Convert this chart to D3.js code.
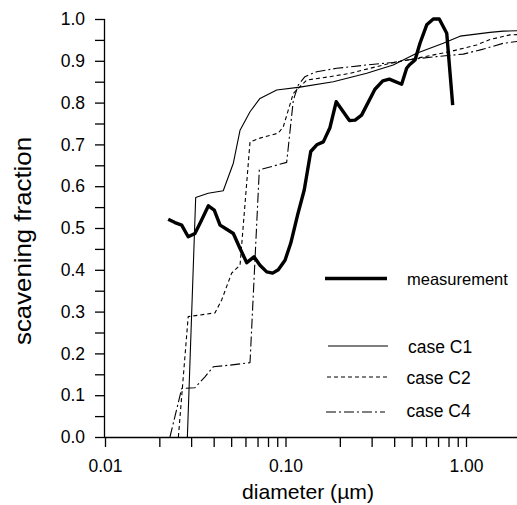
<!DOCTYPE html>
<html><head><meta charset="utf-8">
<script src="https://cdn.jsdelivr.net/npm/d3@7"></script>
<style>
html,body{margin:0;padding:0;background:#fff;}
svg{display:block;font-family:"Liberation Sans",Arial,sans-serif;}
</style></head>
<body><svg id="chart" width="517" height="505"></svg>
<script>
// ---- data ----
const measX = [0.0224,0.0244,0.0266,0.0289,0.0315,0.0343,0.0374,0.0403,0.0434,0.0472,0.0514,0.0560,0.0610,0.0669,0.0722,0.0787,0.0849,0.0912,0.0994,0.107,0.117,0.127,0.138,0.149,0.162,0.176,0.191,0.226,0.243,0.264,0.313,0.346,0.376,0.440,0.469,0.485,0.522,0.556,0.606,0.659,0.711,0.782,0.844];
const measY = [0.521,0.513,0.507,0.479,0.487,0.519,0.553,0.543,0.507,0.497,0.487,0.451,0.417,0.431,0.411,0.395,0.392,0.400,0.423,0.464,0.533,0.591,0.683,0.699,0.706,0.739,0.802,0.757,0.758,0.770,0.832,0.852,0.856,0.844,0.882,0.890,0.902,0.942,0.986,1.0,1.0,0.966,0.794];

const c1X = [0.0286,0.0318,0.0373,0.0452,0.0514,0.0560,0.0636,0.0722,0.0894,0.1203,0.184,0.282,0.395,0.533,0.748,0.927,1.052,1.358,1.61,2.0];
const c1Y = [0.0,0.573,0.583,0.589,0.655,0.734,0.778,0.810,0.830,0.837,0.850,0.870,0.890,0.918,0.942,0.959,0.962,0.968,0.971,0.972];

const c2X = [0.0255,0.0289,0.0407,0.0443,0.0503,0.0560,0.0636,0.0722,0.0912,0.0972,0.1036,0.1105,0.1177,0.1311,0.1764,0.2277,0.3793,0.533,0.815,1.146,1.358,1.753,2.0];
const c2Y = [0.0,0.288,0.297,0.328,0.392,0.411,0.706,0.715,0.727,0.742,0.782,0.822,0.834,0.854,0.862,0.870,0.894,0.906,0.922,0.938,0.951,0.962,0.963];

const c4X = [0.0229,0.0266,0.0315,0.0358,0.0398,0.0493,0.0636,0.0716,0.1015,0.1105,0.1177,0.1282,0.1489,0.1922,0.282,0.395,0.5105,0.688,0.966,1.247,1.61,2.0];
const c4Y = [0.0,0.116,0.118,0.144,0.168,0.172,0.178,0.639,0.657,0.806,0.842,0.862,0.874,0.882,0.890,0.896,0.904,0.910,0.916,0.928,0.942,0.947];

const xMajorTicks = [0.01, 0.1, 1];
const xTickLabels = ["0.01", "0.10", "1.00"];
const yTicks = [0,0.05,0.1,0.15,0.2,0.25,0.3,0.35,0.4,0.45,0.5,0.55,0.6,0.65,0.7,0.75,0.8,0.85,0.9,0.95,1.0];
const yTickLabels = ["0.0","0.1","0.2","0.3","0.4","0.5","0.6","0.7","0.8","0.9","1.0"];

const seriesNames = ["measurement", "case C1", "case C2", "case C4"];

// ---- layout ----
const svg = d3.select("#chart");
const x0 = 105, y0 = 437, yTop = 19;
const x = d3.scaleLog().domain([0.01, 2]).range([x0, x0 + 180.5 * Math.log10(200)]);
const y = d3.scaleLinear().domain([0, 1]).range([y0, yTop]);

// x ticks: 1..9 per decade
const xAllTicks = [];
[0.01, 0.1, 1].forEach(d => { for (let k = 1; k <= 9; k++) { const v = +(d * k).toPrecision(3); if (v <= 2) xAllTicks.push(v); } });

const xAxis = d3.axisBottom(x).tickValues(xAllTicks).tickSize(10).tickPadding(13)
  .tickFormat(v => { const i = xMajorTicks.findIndex(m => Math.abs(m - v) < 1e-9); return i >= 0 ? xTickLabels[i] : ""; });
const yAxis = d3.axisLeft(y).tickValues(yTicks).tickSize(10).tickPadding(10)
  .tickFormat((v, i) => i % 2 === 0 ? yTickLabels[i / 2] : "");

const gx = svg.append("g").attr("transform", `translate(0,${y0})`).call(xAxis);
const gy = svg.append("g").attr("transform", `translate(${x0},0)`).call(yAxis);
[gx, gy].forEach(g => {
  g.select(".domain").attr("stroke", "#000").attr("stroke-width", 1.3);
  g.selectAll(".tick line").attr("stroke", "#000").attr("stroke-width", 1.3);
  g.selectAll(".tick text").attr("fill", "#000").style("font-size", "17.5px").style("font-family", "'Liberation Sans', Arial, sans-serif");
});
gy.select(".domain").attr("d", `M-0.5,${y0}V${yTop}`);
gx.select(".domain").attr("d", `M${x0},0.5H517`);

// axis titles
svg.append("text").attr("x", 308).attr("y", 498.5).attr("text-anchor", "middle")
  .style("font-size", "21px").attr("textLength", 132).attr("lengthAdjust", "spacingAndGlyphs")
  .text("diameter (µm)");
svg.append("text").attr("transform", "translate(31,241) rotate(-90)").attr("text-anchor", "middle")
  .style("font-size", "24px").attr("textLength", 208).attr("lengthAdjust", "spacingAndGlyphs")
  .text("scavening fraction");

// lines
svg.append("clipPath").attr("id", "clip").append("rect").attr("x", x0).attr("y", 0).attr("width", 517 - x0).attr("height", y0 + 1);
const line = d3.line().x(d => x(d[0])).y(d => y(d[1]));
const plot = svg.append("g").attr("clip-path", "url(#clip)");

const styles = [
  { w: 3.4, dash: null },
  { w: 1.1, dash: null },
  { w: 1.1, dash: "4,3" },
  { w: 1.1, dash: "10,3,2,3" }
];
const data = [d3.zip(measX, measY), d3.zip(c1X, c1Y), d3.zip(c2X, c2Y), d3.zip(c4X, c4Y)];
[3, 2, 1, 0].forEach(i => {
  plot.append("path").datum(data[i]).attr("d", line).attr("fill", "none").attr("stroke", "#000")
    .attr("stroke-width", styles[i].w).attr("stroke-dasharray", styles[i].dash)
    .attr("stroke-linejoin", "round");
});

// legend
const leg = [
  { x1: 325, x2: 387, ly: 278.5, tx: 407, ty: 284.5, fs: 16.5 },
  { x1: 328, x2: 388, ly: 346, tx: 408, ty: 352.5, fs: 17.5 },
  { x1: 327, x2: 388, ly: 377, tx: 406.5, ty: 384, fs: 17.5 },
  { x1: 326, x2: 385, ly: 412, tx: 406.5, ty: 417, fs: 17.5 }
];
leg.forEach((l, i) => {
  svg.append("line").attr("x1", l.x1).attr("x2", l.x2).attr("y1", l.ly).attr("y2", l.ly)
    .attr("stroke", "#000").attr("stroke-width", styles[i].w).attr("stroke-dasharray", styles[i].dash);
  svg.append("text").attr("x", l.tx).attr("y", l.ty).style("font-size", l.fs + "px").text(seriesNames[i]);
});
</script></body></html>
